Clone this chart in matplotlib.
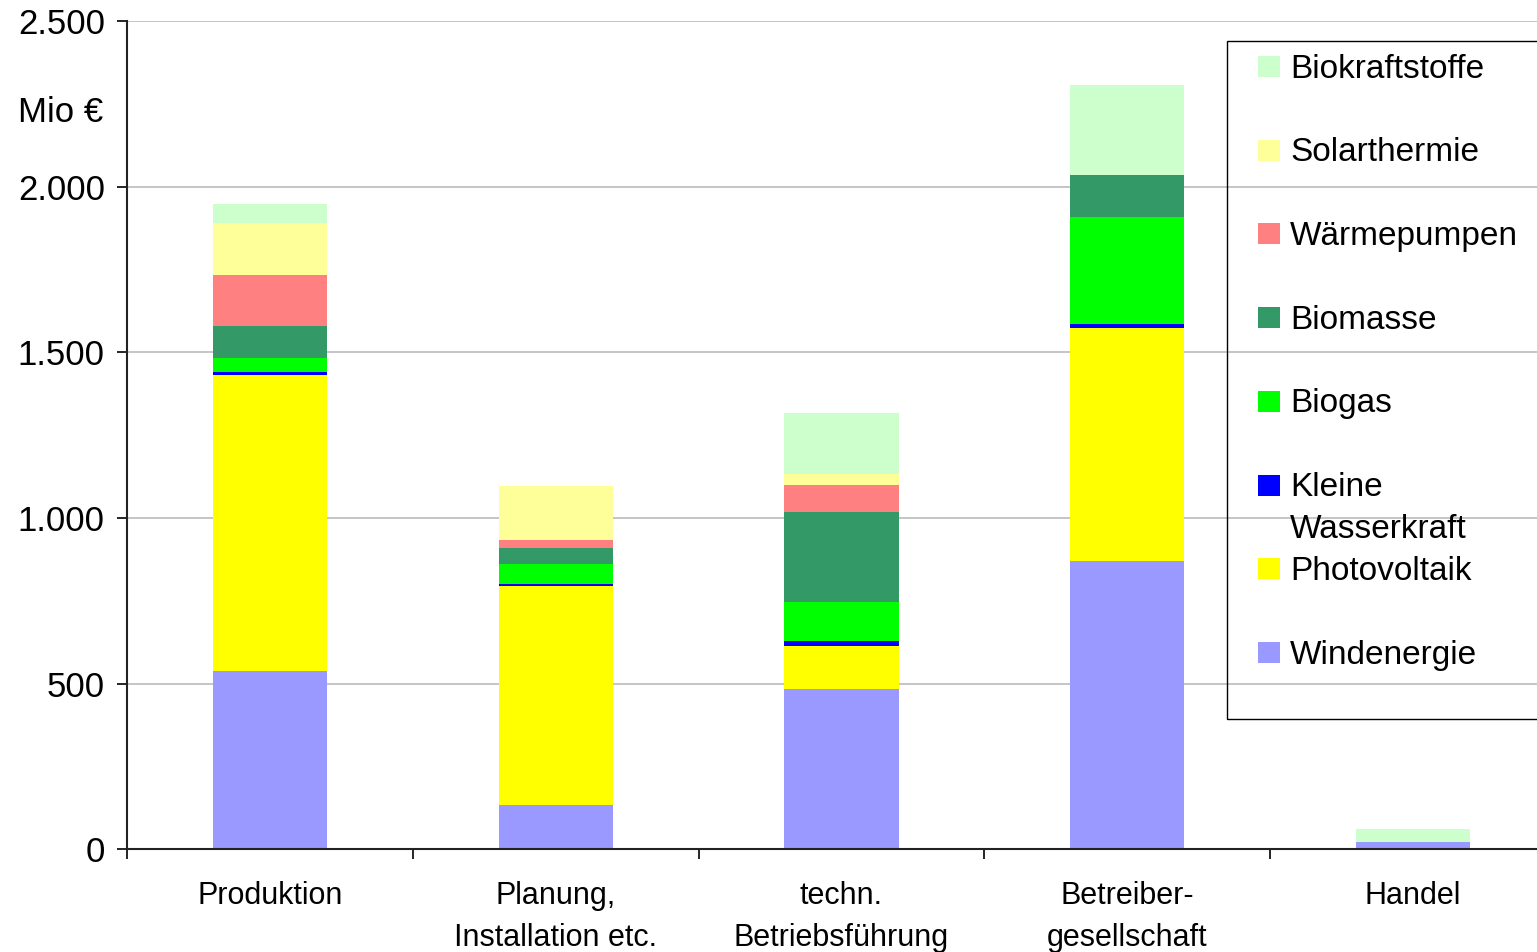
import matplotlib.pyplot as plt
import matplotlib.ticker as mticker
from matplotlib.patches import Rectangle
import numpy as np

plt.rcParams['font.family'] = ['Liberation Sans', 'DejaVu Sans']

kategorien = ["Produktion", "Planung,\nInstallation etc.", "techn.\nBetriebsführung",
              "Betreiber-\ngesellschaft", "Handel"]

# Mio EUR, von unten nach oben gestapelt
windenergie = [538, 134, 484, 870, 22]
photovoltaik = [894, 661, 130, 703, 0]
wasserkraft = [9, 6, 16, 12, 0]
biogas = [42, 60, 117, 323, 0]
biomasse = [97, 49, 272, 127, 0]
waermepumpen = [154, 24, 82, 0, 0]
solarthermie = [156, 164, 31, 0, 0]
biokraftstoffe = [59, 0, 184, 272, 40]

reihen = [
    ("Windenergie", windenergie, "#9999FF"),
    ("Photovoltaik", photovoltaik, "#FFFF00"),
    ("Kleine\nWasserkraft", wasserkraft, "#0000FF"),
    ("Biogas", biogas, "#00FF00"),
    ("Biomasse", biomasse, "#339966"),
    ("Wärmepumpen", waermepumpen, "#FF8080"),
    ("Solarthermie", solarthermie, "#FFFF99"),
    ("Biokraftstoffe", biokraftstoffe, "#CCFFCC"),
]

W, H = 1537, 952
fig = plt.figure(figsize=(W / 100, H / 100), dpi=100)
ax = fig.add_axes([127 / W, 102.6 / H, (1556 - 127) / W, 828.4 / H])

x = np.arange(len(kategorien))
unten = np.zeros(len(kategorien))
for name, werte, farbe in reihen:
    ax.bar(x, werte, 0.4, bottom=unten, color=farbe, linewidth=0, zorder=2)
    unten += np.array(werte)

ax.set_xlim(-0.5, len(kategorien) - 0.5)
ax.set_ylim(0, 2500)
ax.yaxis.set_major_locator(mticker.MultipleLocator(500))
ax.yaxis.set_major_formatter(mticker.FuncFormatter(lambda v, p: f"{int(v):,}".replace(",", ".")))
ax.grid(axis='y', color='#c0c0c0', linewidth=1.3, zorder=0)
ax.set_axisbelow(True)

ax.set_xticks(x)
ax.set_xticklabels(kategorien, fontsize=22, va='top', linespacing=1.5)
ax.set_xticks(np.arange(len(kategorien) + 1) - 0.5, minor=True)
ax.tick_params(axis='x', which='major', length=0, pad=23)
ax.tick_params(axis='x', which='minor', length=7, width=1.2, direction='out')
ax.tick_params(axis='y', length=7, width=1.2, labelsize=25, pad=9)

for s in ['top', 'right']:
    ax.spines[s].set_visible(False)
for s in ['left', 'bottom']:
    ax.spines[s].set_linewidth(1.5)
    ax.spines[s].set_color('#222222')

fig.text(103 / W, 1 - 112 / H, "Mio €", ha='right', va='center', fontsize=25)

# Legende wie im Original (Eintrag "Kleine Wasserkraft" zweizeilig)
fig.patches.append(Rectangle((1227 / W, 1 - 719 / H), 340 / W, (719 - 41) / H,
                             transform=fig.transFigure, fill=False,
                             edgecolor='black', linewidth=1))
leg_fs = 24
em = leg_fs * 100 / 72
zeilen_y = 66 + 83.7 * np.arange(len(reihen))
for (name, werte, farbe), zy in zip(reversed(reihen), zeilen_y):
    fig.patches.append(Rectangle((1258 / W, 1 - (zy + 11) / H), 22 / W, 21 / H,
                                 transform=fig.transFigure, color=farbe, linewidth=0))
    fig.text(1290 / W, 1 - (zy - 0.37 * em) / H, name, ha='left', va='top',
             fontsize=leg_fs, linespacing=1.45)

fig.savefig("out.png", dpi=100)
